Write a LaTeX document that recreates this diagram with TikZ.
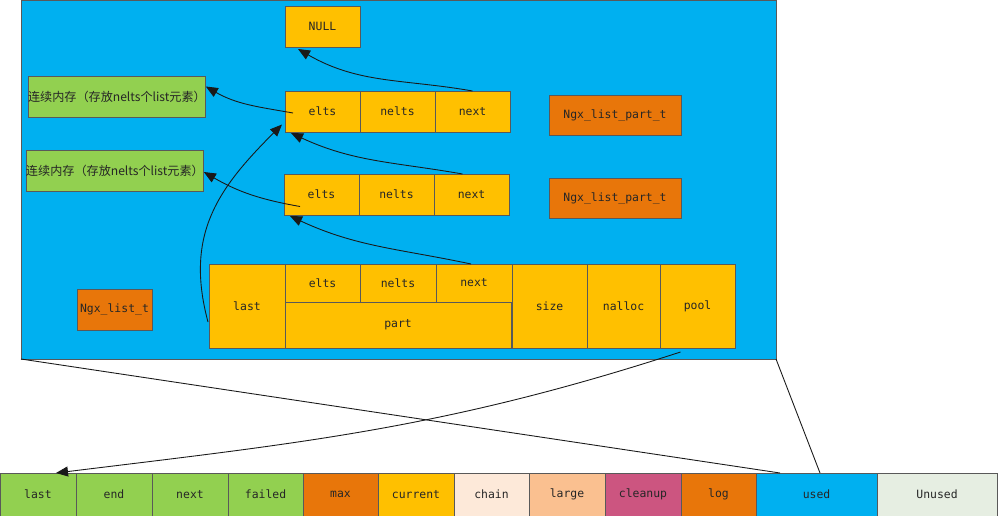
\documentclass[tikz,border=0pt]{standalone}
\usepackage{fontspec}
\setmainfont{DejaVu Sans Mono}
\newfontfamily\cjk{Noto Sans CJK SC}
\usepackage{tikz}
\usetikzlibrary{arrows.meta,positioning,calc}
\definecolor{PoolBlue}{HTML}{00B0F0}
\definecolor{PoolYellow}{HTML}{FFC000}
\definecolor{PoolGreen}{HTML}{92D050}
\definecolor{PoolOrange}{HTML}{E8760A}
\definecolor{PoolPeach}{HTML}{FDE9D9}
\definecolor{PoolTan}{HTML}{FAC090}
\definecolor{PoolRose}{HTML}{CC5580}
\definecolor{PoolMist}{HTML}{E6EEE2}
\tikzset{
  box/.style={draw=black!65, line width=0.5pt, inner sep=0pt, outer sep=0pt,
    text=black!85, font=\fontsize{6.5}{8}\selectfont},
  panel/.style={box, fill=PoolBlue, minimum width=151mm, minimum height=71.8mm},
  cell/.style={box, fill=PoolYellow, minimum width=15mm, minimum height=8.2mm},
  memory/.style={box, fill=PoolGreen, minimum width=35.4mm, minimum height=8.2mm,
    font=\cjk\fontsize{6.9}{8}\selectfont},
  tag/.style={box, fill=PoolOrange, minimum width=26.4mm, minimum height=8mm},
  slot/.style={box, minimum width=15.2mm, minimum height=8.6mm},
  wire/.style={-{Triangle[length=2.4mm, width=2mm]}, line width=0.5pt, draw=black!90},
  link/.style={line width=0.5pt, draw=black!90}
}
\begin{document}
\begin{tikzpicture}[x=0.2mm, y=-0.2mm]
  \useasboundingbox (0,0) rectangle (998,516);
  \node[panel, anchor=north west] (panel) at (21,0) {};
  \node[cell, anchor=north west] (null) at (285,6) {NULL};
  % first part
  \node[cell, anchor=north west] (elts1) at (285,91) {elts};
  \node[cell, right=0pt of elts1] (nelts1) {nelts};
  \node[cell, right=0pt of nelts1] (next1) {next};
  \node[memory, anchor=north west] (mem1) at (28,76) {连续内存（存放nelts个list元素）};
  \node[tag, anchor=north west] (part1) at (549,95) {Ngx\_list\_part\_t};
  % second part
  \node[cell, anchor=north west] (elts2) at (284,174) {elts};
  \node[cell, right=0pt of elts2] (nelts2) {nelts};
  \node[cell, right=0pt of nelts2] (next2) {next};
  \node[memory, anchor=north west] (mem2) at (26,150) {连续内存（存放nelts个list元素）};
  \node[tag, anchor=north west] (part2) at (549,178) {Ngx\_list\_part\_t};
  % list head
  \node[cell, anchor=north west, minimum width=15.2mm, minimum height=16.8mm] (last) at (209,264) {last};
  \node[cell, anchor=north west, minimum height=7.6mm] (elts3) at (last.north east) {elts};
  \node[cell, right=0pt of elts3, minimum width=15.2mm, minimum height=7.6mm] (nelts3) {nelts};
  \node[cell, right=0pt of nelts3, minimum width=15.2mm, minimum height=7.6mm] (next3) {next};
  \node[cell, anchor=north west, minimum width=45.2mm, minimum height=9.2mm] (part) at (elts3.south west) {part};
  \node[cell, anchor=north west, minimum height=16.8mm] (size) at (next3.north east) {size};
  \node[cell, right=0pt of size, minimum width=14.6mm, minimum height=16.8mm] (nalloc) {nalloc};
  \node[cell, right=0pt of nalloc, minimum height=16.8mm] (poolf) {pool};
  \node[tag, anchor=north west, minimum width=15mm, minimum height=8.2mm] (list) at (77,289) {Ngx\_list\_t};
  % pool memory
  \node[slot, anchor=north west, fill=PoolGreen] (plast) at (0,473) {last};
  \node[slot, right=0pt of plast, fill=PoolGreen] (pend) {end};
  \node[slot, right=0pt of pend, fill=PoolGreen] (pnext) {next};
  \node[slot, right=0pt of pnext, fill=PoolGreen, minimum width=15mm] (pfailed) {failed};
  \node[slot, right=0pt of pfailed, fill=PoolOrange, minimum width=15mm] (pmax) {max};
  \node[slot, right=0pt of pmax, fill=PoolYellow] (pcurrent) {current};
  \node[slot, right=0pt of pcurrent, fill=PoolPeach, minimum width=15mm] (pchain) {chain};
  \node[slot, right=0pt of pchain, fill=PoolTan] (plarge) {large};
  \node[slot, right=0pt of plarge, fill=PoolRose] (pcleanup) {cleanup};
  \node[slot, right=0pt of pcleanup, fill=PoolOrange, minimum width=15mm] (plog) {log};
  \node[slot, right=0pt of plog, fill=PoolBlue, minimum width=24.2mm] (pused) {used};
  \node[slot, right=0pt of pused, fill=PoolMist, minimum width=24mm] (punused) {Unused};
  % zoom lines
  \draw[link] (panel.south west) -- ([xshift=4.8mm]pused.north west);
  \draw[link] (panel.south east) -- ([xshift=0.7mm]pused.north);
  % pointers
  \draw[wire] (next1.north) to[out=170, in=-30] ([xshift=2.6mm, yshift=-0.4mm]null.south west);
  \draw[wire] ([xshift=1.6mm, yshift=-0.3mm]elts1.west) to[out=170, in=-30] ([yshift=2mm]mem1.east);
  \draw[wire] ([xshift=-1.8mm]next2.north) to[out=170, in=-25] ([xshift=1.2mm, yshift=-0.2mm]elts1.south west);
  \draw[wire] ([xshift=3.2mm, yshift=-2.4mm]elts2.west) to[out=170, in=-30] ([yshift=-0.3mm]mem2.east);
  \draw[wire] ([xshift=-0.6mm]next3.north) to[out=168, in=-25] ([xshift=1.2mm, yshift=-0.2mm]elts2.south west);
  \draw[wire] ([xshift=-0.2mm, yshift=-3.2mm]last.west) to[out=105, in=225, looseness=1.1] ([xshift=-0.6mm, yshift=-2.6mm]elts1.west);
  \draw[wire] ([xshift=-3.4mm, yshift=-0.8mm]poolf.south) to[out=198, in=7] ([xshift=-4mm]plast.north east);
\end{tikzpicture}
\end{document}
